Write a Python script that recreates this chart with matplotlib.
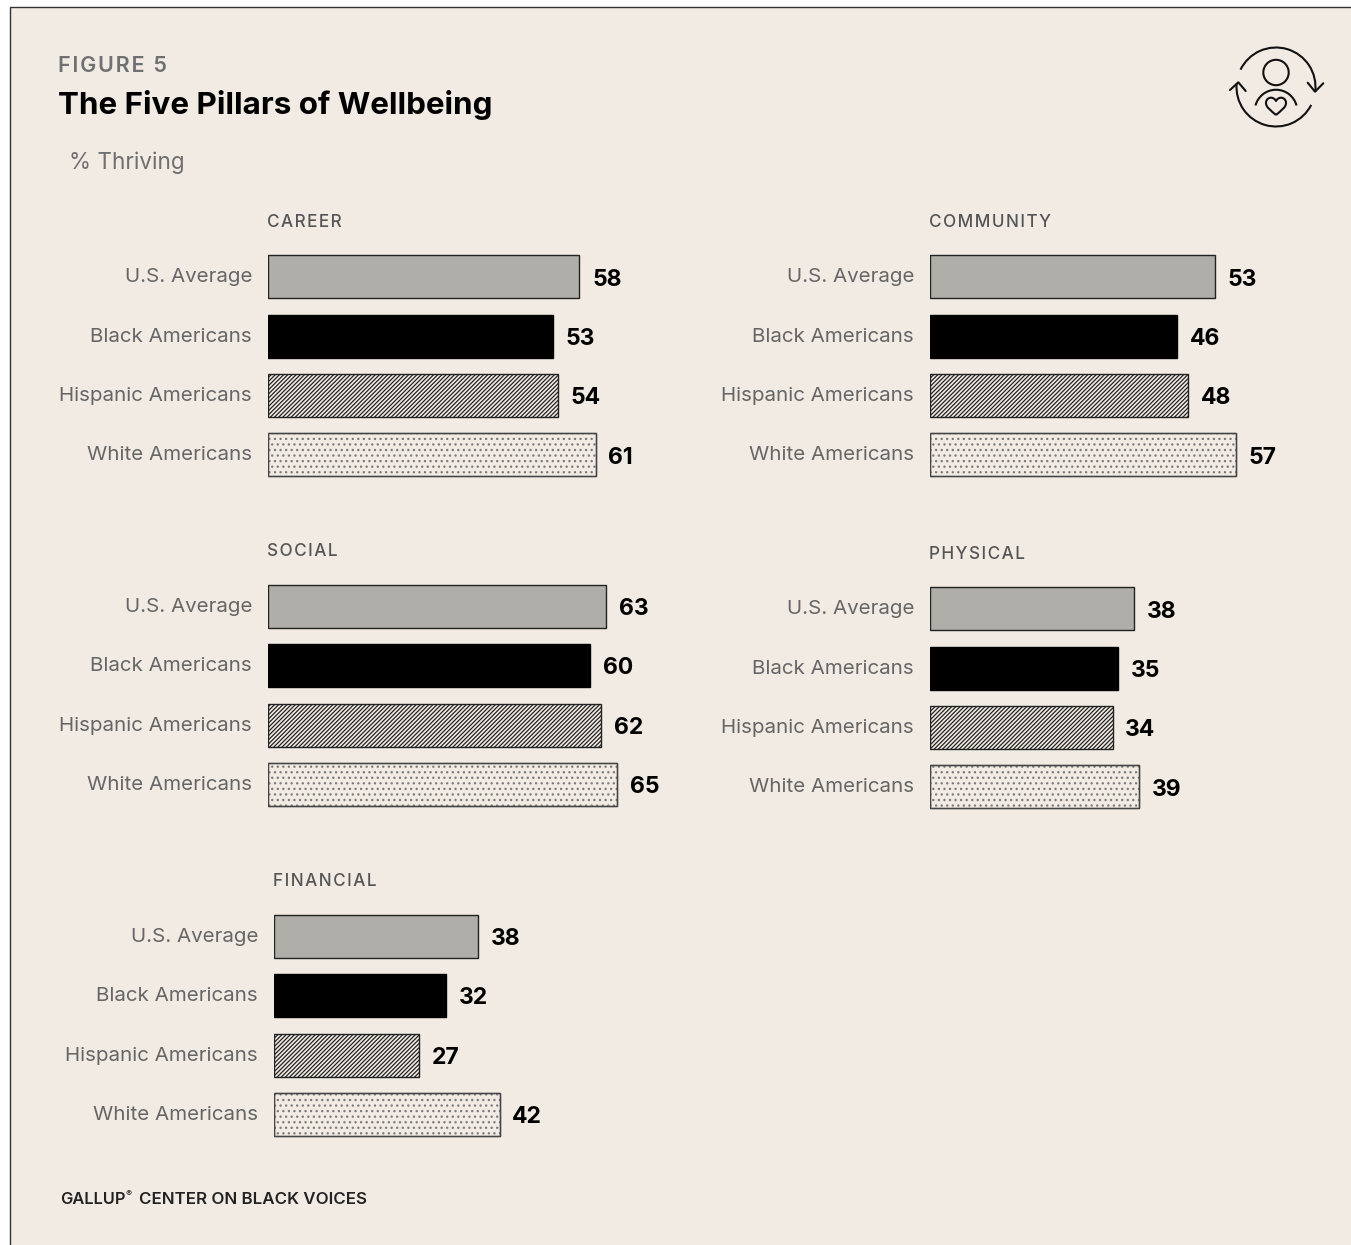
import matplotlib
matplotlib.use("Agg")
import matplotlib.pyplot as plt
from matplotlib.patches import Rectangle, Circle, Arc, PathPatch
from matplotlib.path import Path
from matplotlib.transforms import ScaledTranslation

# data
groups = ["U.S. Average", "Black Americans", "Hispanic Americans", "White Americans"]
career = [58, 53, 54, 61]
community = [53, 46, 48, 57]
social = [63, 60, 62, 65]
physical = [38, 35, 34, 39]
financial = [38, 32, 27, 42]

W, H = 1351, 1245
BG = "#f1ebe4"
PX_PER_UNIT = 5.37
ROW = 59.3

plt.rcParams["font.family"] = ["Inter", "DejaVu Sans"]
plt.rcParams["hatch.linewidth"] = 0.9

fig = plt.figure(figsize=(W / 100, H / 100), dpi=100, facecolor="white")

# overlay in pixel coordinates for the page frame, texts and icon
page = fig.add_axes([0, 0, 1, 1], zorder=0)
page.set_xlim(0, W)
page.set_ylim(H, 0)
page.axis("off")
page.add_patch(Rectangle((9.5, 6.5), W, H, facecolor=BG, edgecolor="#333333", lw=1.0))

def spaced(s, gap="\u200a"):
    return gap.join(s)

page.text(58.5, 65.5, spaced("FIGURE 5"), fontsize=15.5, color="#6f7072", fontweight="semibold", va="center")
page.text(58.5, 105, "The Five Pillars of Wellbeing", fontsize=22.6, color="black", fontweight="bold", va="center")
page.text(69, 163, "% Thriving", fontsize=16.2, color="#6f6f6f", va="center")
page.text(60, 1199.5, "GALLUP", fontsize=11.8, color="#222222", fontweight="semibold", va="center")
page.text(125.5, 1193.5, "\u00ae", fontsize=6.5, color="#222222", va="center")
page.text(139, 1199.5, "CENTER ON BLACK VOICES", fontsize=12.2, color="#222222", fontweight="semibold", va="center")

def panel(values, title, left, top, title_y):
    ax = fig.add_axes([left / W, 1 - (top + 4 * ROW) / H, 75 * PX_PER_UNIT / W, 4 * ROW / H], zorder=1)
    ax.patch.set_alpha(0)
    ax.barh(0, values[0], height=0.725, color="#b0aea8", edgecolor="#222222", lw=1)
    ax.barh(1, values[1], height=0.725, color="black", edgecolor="black", lw=1)
    ax.barh(2, values[2], height=0.725, color=BG, edgecolor="#222222", lw=1, hatch="////////")
    ax.barh(3, values[3], height=0.725, color=BG, edgecolor="#7a7a7a", lw=1, hatch="...")
    ax.barh(3, values[3], height=0.725, color="none", edgecolor="#444444", lw=1)
    for i, v in enumerate(values):
        ax.text(v + 2.35, i + 0.045, str(v), fontsize=16.5, fontweight="bold", color="black", va="center")
    ax.set_xlim(0, 75)
    ax.set_ylim(3.5, -0.5)
    ax.set_xticks([])
    ax.set_yticks(range(4), groups)
    ax.tick_params(axis="y", length=0, pad=11.5, labelsize=14.8, labelcolor="#666666")
    nudge = ScaledTranslation(0, 1.5 / 100, fig.dpi_scale_trans)
    for t in ax.get_yticklabels():
        t.set_transform(t.get_transform() + nudge)
    for s in ax.spines.values():
        s.set_visible(False)
    page.text(left - 1, title_y, spaced(title), fontsize=12.3, color="#555555", fontweight="medium", va="center")

panel(career, "CAREER", 268, 247.3, 222.5)
panel(community, "COMMUNITY", 930, 247.3, 222.5)
panel(social, "SOCIAL", 268, 576.8, 551.5)
panel(physical, "PHYSICAL", 930, 579.3, 554.5)
panel(financial, "FINANCIAL", 274, 906.8, 881.5)

# icon
ink = dict(color="#111111", lw=1.5, solid_capstyle="round", solid_joinstyle="round")
page.add_patch(Circle((1276, 72.5), 12.7, fill=False, edgecolor="#111111", lw=1.5))
page.add_patch(Arc((1276, 87), 79, 79, theta1=206, theta2=367, edgecolor="#111111", lw=1.5))  # y axis flipped
page.add_patch(Arc((1276, 87), 79, 79, theta1=27, theta2=185, edgecolor="#111111", lw=1.5))
page.plot([1307.7, 1315, 1323.3], [82.7, 91.7, 83.3], **ink)
page.plot([1230, 1238.3, 1245.7], [90, 82.3, 91], **ink)
page.add_patch(Arc((1276, 111), 42.5, 42.5, theta1=195, theta2=345, edgecolor="#111111", lw=1.5))
heart = Path(
    [(1276, 115), (1271, 110.5), (1266, 107.5), (1266, 103), (1266, 99.5), (1268.5, 97.7), (1271, 97.7),
     (1273, 97.7), (1275, 99), (1276, 101), (1277, 99), (1279, 97.7), (1281, 97.7),
     (1283.5, 97.7), (1286, 99.5), (1286, 103), (1286, 107.5), (1281, 110.5), (1276, 115)],
    [Path.MOVETO] + [Path.CURVE4] * 18,
)
page.add_patch(PathPatch(heart, fill=False, edgecolor="#111111", lw=1.5, joinstyle="round"))

fig.savefig("out.png", dpi=100)
